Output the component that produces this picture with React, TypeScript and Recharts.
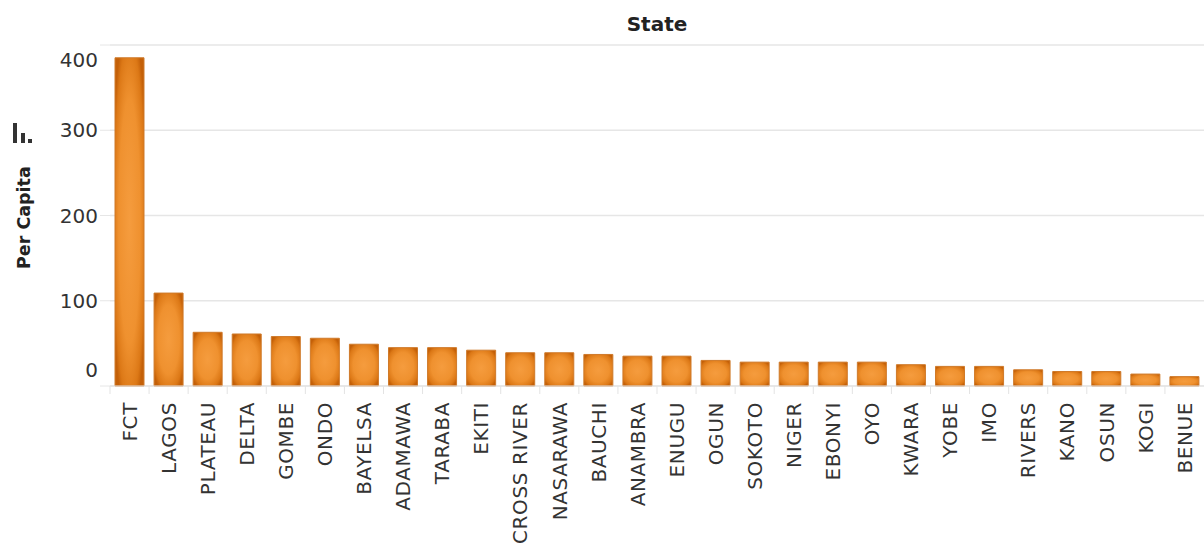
import React from 'react';
import { BarChart, Bar, XAxis, YAxis, CartesianGrid } from 'recharts';

// states sorted by per capita value
const states = [
  'FCT', 'LAGOS', 'PLATEAU', 'DELTA', 'GOMBE', 'ONDO', 'BAYELSA', 'ADAMAWA', 'TARABA', 'EKITI',
  'CROSS RIVER', 'NASARAWA', 'BAUCHI', 'ANAMBRA', 'ENUGU', 'OGUN', 'SOKOTO', 'NIGER', 'EBONYI', 'OYO',
  'KWARA', 'YOBE', 'IMO', 'RIVERS', 'KANO', 'OSUN', 'KOGI', 'BENUE',
];
const perCapita = [
  385, 109, 63, 61, 58, 56, 49, 45, 45, 42,
  39, 39, 37, 35, 35, 30, 28, 28, 28, 28,
  25, 23, 23, 19, 17, 17, 14, 11,
];
const yTicks = [0, 100, 200, 300, 400];

const data = states.map((state, i) => ({ state, value: perCapita[i] }));

const WIDTH = 1204;
const HEIGHT = 545;
const BAND = (WIDTH - 110) / states.length;
const FONT = '"DejaVu Sans", Verdana, sans-serif';

const XTick = (props: any) => {
  const { x, y, payload } = props;
  return (
    <g>
      <line x1={x - BAND / 2} x2={x - BAND / 2} y1={y} y2={y + 8} stroke="#e3e3e3" />
      <text
        x={x}
        y={y + 16}
        transform={`rotate(-90, ${x}, ${y + 16})`}
        textAnchor="end"
        dy="0.36em"
        fontSize={20}
        letterSpacing={0.6}
        fontFamily={FONT}
        fill="#333"
      >
        {payload.value}
      </text>
    </g>
  );
};

const YTick = (props: any) => {
  const { x, y, payload } = props;
  // the end labels sit inside the gridlines in the original
  let shift = 0;
  if (payload.value === 400) shift = 15;
  if (payload.value === 0) shift = -16;
  return (
    <text x={x} y={y + shift} dy="0.36em" textAnchor="end" fontSize={20} fontFamily={FONT} fill="#333">
      {payload.value}
    </text>
  );
};

const Titles = () => (
  <g>
    <text x={657} y={24} dy="0.36em" textAnchor="middle" fontSize={20} fontWeight="bold" fontFamily={FONT} fill="#222">
      State
    </text>
    <text
      x={24}
      y={269}
      transform="rotate(-90, 24, 269)"
      dy="0.36em"
      fontSize={17.5}
      fontWeight="bold"
      fontFamily={FONT}
      fill="#222"
    >
      Per Capita
    </text>
    <rect x={13} y={123} width={4} height={20} fill="#333" />
    <rect x={21} y={133} width={4} height={10} fill="#333" />
    <rect x={28} y={139} width={4} height={4} fill="#333" />
  </g>
);

export default function App() {
  return (
    <div style={{ position: 'absolute', left: 0, top: 0, background: '#fff' }}>
      <BarChart width={WIDTH} height={HEIGHT} data={data} margin={{ top: 45, right: 0, bottom: 0, left: 0 }}>
        <defs>
          <radialGradient id="barFill" cx="50%" cy="50%" r="62%">
            <stop offset="0%" stopColor="#f59c3e" />
            <stop offset="60%" stopColor="#ef912f" />
            <stop offset="88%" stopColor="#dc7816" />
            <stop offset="100%" stopColor="#c46008" />
          </radialGradient>
        </defs>
        <CartesianGrid vertical={false} stroke="#e6e6e6" strokeWidth={1.5} />
        <XAxis
          dataKey="state"
          interval={0}
          height={159}
          tickSize={0}
          tickMargin={0}
          axisLine={{ stroke: '#e3e3e3' }}
          tick={<XTick />}
        />
        <YAxis
          domain={[0, 400]}
          ticks={yTicks}
          width={110}
          axisLine={false}
          tickSize={10}
          tickLine={{ stroke: '#e6e6e6' }}
          tick={<YTick />}
          label={<Titles />}
        />
        <Bar dataKey="value" barSize={29} fill="url(#barFill)" stroke="#cf7a2a" strokeWidth={1} isAnimationActive={false} />
      </BarChart>
    </div>
  );
}
